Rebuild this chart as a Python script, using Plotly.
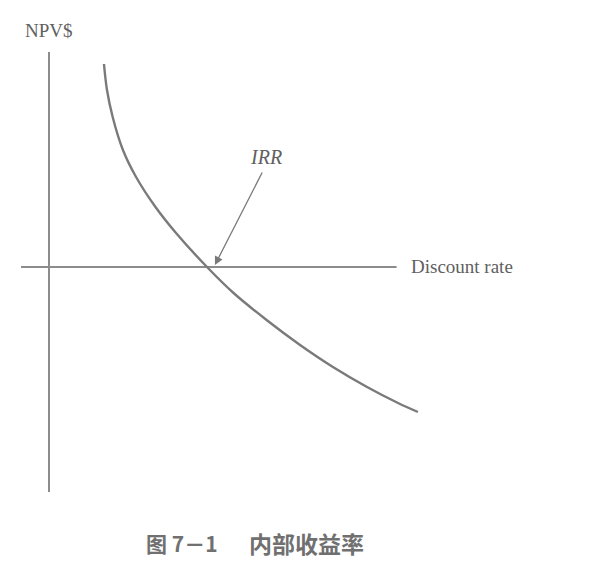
import plotly.graph_objects as go

# Data (discount rate in %, NPV in $ units)
rate = [3.48, 3.67, 4.03, 4.68, 5.51, 6.74, 8.04, 10.0, 11.68, 13.77, 15.89, 17.97, 20.13, 22.09, 23.35]
npv = [10.15, 8.85, 7.5, 5.85, 4.5, 3.0, 1.7, 0.0, -1.3, -2.65, -3.9, -5.0, -6.0, -6.8, -7.25]

x_axis_extent = [-1.77, 22.0]
y_axis_extent = [-11.25, 10.75]
irr_value = 10.0

x_label = "Discount rate"
y_label = "NPV$"
irr_label = "IRR"
caption_left = "图 7－1"
caption_right = "内部收益率"

line_col = "#858585"
text_col = "#606060"

fig = go.Figure()
# horizontal axis
fig.add_trace(go.Scatter(x=x_axis_extent, y=[0, 0], mode="lines",
                         line=dict(color="#8c8c8c", width=2), hoverinfo="skip"))
# vertical axis
fig.add_trace(go.Scatter(x=[0, 0], y=y_axis_extent, mode="lines",
                         line=dict(color="#8c8c8c", width=2), hoverinfo="skip"))
# NPV curve
fig.add_trace(go.Scatter(x=rate, y=npv, mode="lines",
                         line=dict(color="#7a7a7a", width=2.4, shape="spline", smoothing=1.0),
                         hoverinfo="skip"))

serif = "Liberation Serif, Times New Roman, serif"
annots = [
    dict(x=0, y=11.85, text=y_label, showarrow=False, xref="x", yref="y",
         font=dict(family=serif, size=19, color=text_col)),
    dict(x=22.8, y=0.05, text=x_label, showarrow=False, xanchor="left", xref="x", yref="y",
         font=dict(family=serif, size=19, color=text_col)),
    dict(x=13.73, y=5.5, text="<i>" + irr_label + "</i>", showarrow=False, xref="x", yref="y",
         font=dict(family=serif, size=20, color=text_col)),
    # arrow pointing at IRR
    dict(x=irr_value + 0.5, y=0.1, ax=13.54, ay=4.8, axref="x", ayref="y", xref="x", yref="y",
         text="", showarrow=True, arrowhead=2, arrowsize=1.3, arrowwidth=1.3, arrowcolor="#7a7a7a",
         standoff=0),
    dict(x=(182 - 49) / 15.8, y=(267 - 543) / 20, text=caption_left, showarrow=False, xref="x", yref="y",
         font=dict(family="Noto Sans CJK SC", size=21, color="#707070", weight="bold")),
    dict(x=(306 - 49) / 15.8, y=(267 - 543) / 20, text=caption_right, showarrow=False, xref="x", yref="y",
         font=dict(family="Noto Sans CJK SC", size=23, color="#707070", weight="bold")),
]

fig.update_layout(
    width=597, height=575, autosize=False,
    margin=dict(l=0, r=0, t=0, b=0),
    paper_bgcolor="white", plot_bgcolor="white",
    showlegend=False,
    xaxis=dict(range=[-49 / 15.8, 548 / 15.8], visible=False, fixedrange=True),
    yaxis=dict(range=[-(575 - 267) / 20, 267 / 20], visible=False, fixedrange=True),
    annotations=annots,
)

fig.write_html("out.html", config={"displayModeBar": False},
               post_script="document.body.style.margin='0';document.body.style.overflow='hidden';")
